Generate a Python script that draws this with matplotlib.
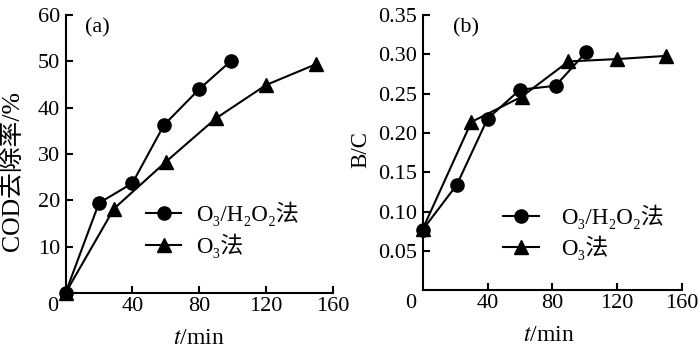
import matplotlib
matplotlib.use('Agg')
import matplotlib.pyplot as plt

plt.rcParams['font.family'] = ['Liberation Serif', 'DejaVu Serif', 'Noto Sans CJK SC']
plt.rcParams['mathtext.fontset'] = 'stix'
plt.rcParams['font.size'] = 16

# (a) COD removal
t_a_h2o2 = [0, 20, 40, 59, 80, 99]
cod_h2o2 = [0, 19.4, 23.7, 36.3, 44.0, 50.1]
t_a_o3 = [0, 29, 60, 90, 120, 150]
cod_o3 = [0, 18.2, 28.3, 37.7, 44.9, 49.4]

# (b) B/C
t_b_h2o2 = [0, 21, 40, 60, 82, 101]
bc_h2o2 = [0.077, 0.134, 0.218, 0.255, 0.260, 0.303]
t_b_o3 = [0, 30, 61, 90, 120, 150]
bc_o3 = [0.078, 0.214, 0.246, 0.291, 0.294, 0.298]

x_ticks = [40, 80, 120, 160]
lab_h2o2 = 'O₃/H₂O₂法'
lab_o3 = 'O₃法'

fig = plt.figure(figsize=(7, 3.5), dpi=100)
ax1 = fig.add_axes([0.0936, 0.163, 0.382, 0.794])
ax2 = fig.add_axes([0.604, 0.171, 0.370, 0.786])

def style(ax):
    for s in ['top', 'right']:
        ax.spines[s].set_visible(False)
    for s in ['left', 'bottom']:
        ax.spines[s].set_linewidth(1.5)
    ax.tick_params(direction='in', length=5, width=1.5)
    ax.tick_params(axis='x', pad=3)
    ax.tick_params(axis='y', pad=4)
    ax.set_xlim(0, 160)
    ax.set_xticks(x_ticks)
    ax.annotate('0', xy=(0, 0), xycoords='axes fraction', xytext=(-9, -3),
                textcoords='offset points', ha='center', va='top')

kw = dict(color='black', lw=1.5, ms=9.5, clip_on=False)

ax1.plot(t_a_h2o2, cod_h2o2, marker='o', label=lab_h2o2, **kw)
ax1.plot(t_a_o3, cod_o3, marker='^', label=lab_o3, **kw)
style(ax1)
ax1.set_ylim(0, 60)
ax1.set_yticks([10, 20, 30, 40, 50, 60])
ax1.set_ylabel('COD去除率/%', fontsize=18.5)
ax1.yaxis.set_label_coords(-0.155, 0.44)
ax1.set_xlabel(r'$t$/min', fontsize=17)
ax1.xaxis.set_label_coords(0.5, -0.125)
ax1.text(0.073, 0.953, '(a)', transform=ax1.transAxes, ha='left', va='center')
ax1.legend(loc='center left', bbox_to_anchor=(0.30, 0.227), frameon=False,
           fontsize=16.5, handlelength=1.55, handletextpad=0.65,
           labelspacing=0.3, borderpad=0, borderaxespad=0)

ax2.plot(t_b_h2o2, bc_h2o2, marker='o', label=lab_h2o2, **kw)
ax2.plot(t_b_o3, bc_o3, marker='^', label=lab_o3, **kw)
style(ax2)
ax2.set_ylim(0, 0.35)
ax2.set_yticks([0.05, 0.10, 0.15, 0.20, 0.25, 0.30, 0.35])
ax2.set_yticklabels(['0.05', '0.10', '0.15', '0.20', '0.25', '0.30', '0.35'])
ax2.set_ylabel('B/C', fontsize=16.5)
ax2.yaxis.set_label_coords(-0.20, 0.51)
ax2.set_xlabel(r'$t$/min', fontsize=17)
ax2.xaxis.set_label_coords(0.485, -0.125)
ax2.text(0.115, 0.953, '(b)', transform=ax2.transAxes, ha='left', va='center')
ax2.legend(loc='center left', bbox_to_anchor=(0.31, 0.21), frameon=False,
           fontsize=16.5, handlelength=1.55, handletextpad=1.0,
           labelspacing=0.3, borderpad=0, borderaxespad=0)

fig.savefig('out.png', dpi=100)
